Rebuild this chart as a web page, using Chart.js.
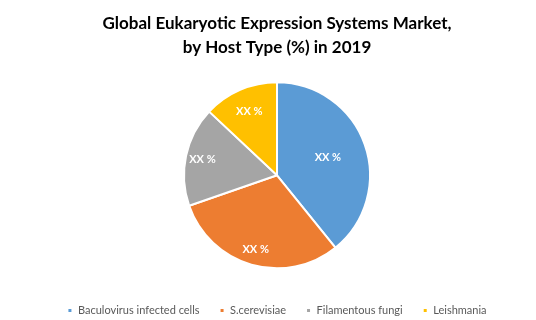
<!DOCTYPE html>
<html>
<head>
<meta charset="utf-8">
<script src="https://cdn.jsdelivr.net/npm/chart.js@4"></script>
<style>
	html, body { margin: 0; padding: 0; background: #fff; }
	#wrap { width: 536px; height: 320px; }
</style>
</head>
<body>
<div id="wrap"><canvas id="chart"></canvas></div>
<script>
"use strict";

const hostTypes = ['Baculovirus infected cells', 'S.cerevisiae', 'Filamentous fungi', 'Leishmania'];
const shares = [39.2, 30.5, 17.3, 13.0];
const sliceLabels = ['XX %', 'XX %', 'XX %', 'XX %'];
const colors = ['#5b9bd5', '#ed7d31', '#a5a5a5', '#ffc000'];

// how far out (fraction of radius) each label sits, like Excel's best fit
const labelRadius = [0.58, 0.83, 0.82, 0.75];

const sliceLabelPlugin = {
	id: 'sliceLabels',
	afterDatasetsDraw: function(chart) {
		const ctx = chart.ctx;
		const meta = chart.getDatasetMeta(0);
		ctx.save();
		ctx.font = 'bold 11px Lato';
		ctx.fillStyle = '#ffffff';
		ctx.textAlign = 'center';
		ctx.textBaseline = 'middle';
		meta.data.forEach(function(arc, i) {
			const mid = (arc.startAngle + arc.endAngle) / 2;
			const r = arc.outerRadius * labelRadius[i];
			ctx.fillText(sliceLabels[i], arc.x + Math.cos(mid) * r, arc.y + Math.sin(mid) * r);
		});
		ctx.restore();
	}
};

new Chart(document.getElementById('chart'), {
	type: 'pie',
	data: {
		labels: hostTypes,
		datasets: [{
			data: shares,
			backgroundColor: colors,
			borderColor: '#ffffff',
			borderWidth: 2,
		}]
	},
	options: {
		responsive: true,
		maintainAspectRatio: false,
		animation: false,
		radius: 93,
		layout: {
			padding: { top: 0, bottom: -6, left: 18, right: 0 }
		},
		plugins: {
			title: {
				display: true,
				text: ['Global Eukaryotic Expression Systems Market,', 'by Host Type (%) in 2019'],
				color: '#000000',
				font: { family: 'Lato', size: 17, weight: 'bold', lineHeight: 1.4 },
				padding: { top: 12, bottom: 6 }
			},
			legend: {
				position: 'bottom',
				labels: {
					color: '#595959',
					font: { family: 'Lato', size: 11 },
					boxWidth: 5,
					boxHeight: 5,
					padding: 20
				}
			},
			tooltip: { enabled: false }
		}
	},
	plugins: [sliceLabelPlugin]
});
</script>
</body>
</html>
